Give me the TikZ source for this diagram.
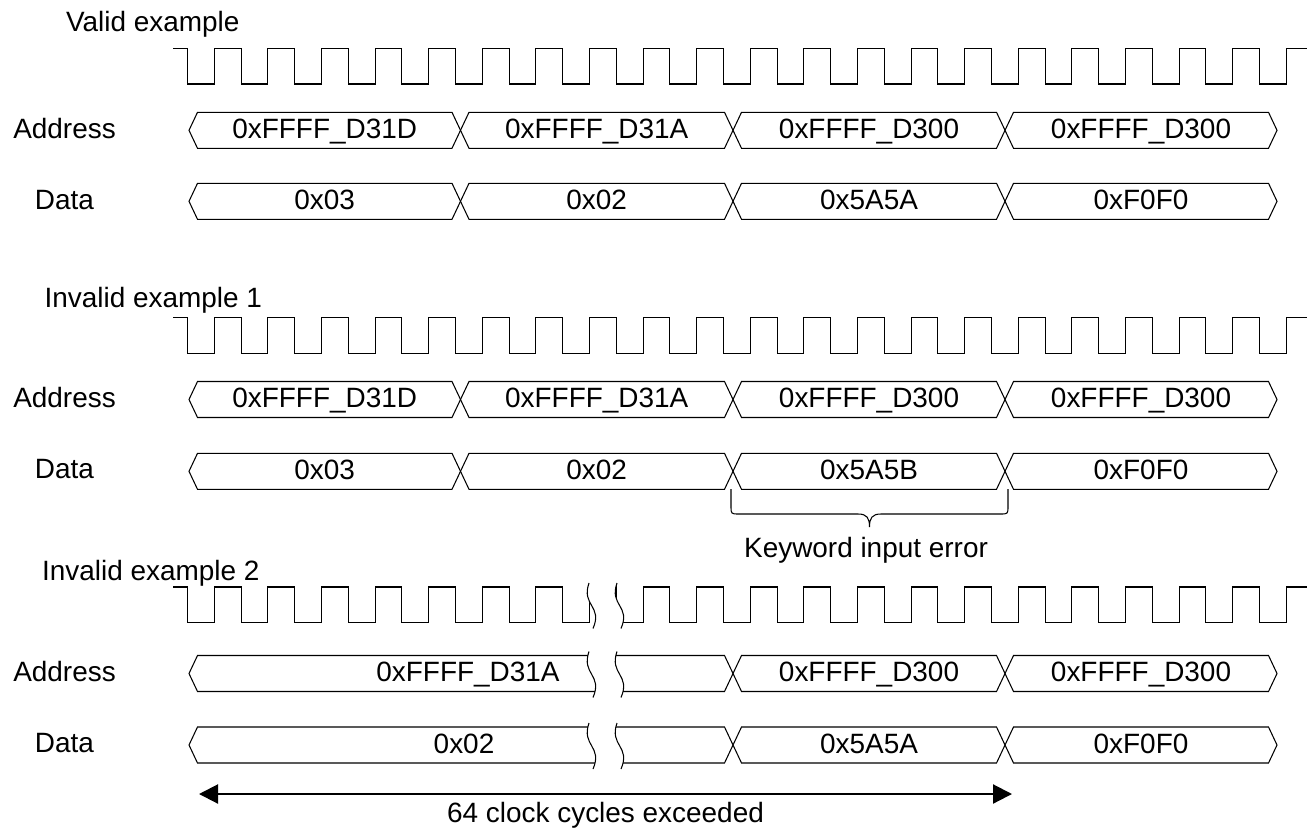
\documentclass[tikz,border=0pt]{standalone}
\usepackage{fontspec}
\setmainfont{Liberation Sans}
\usepackage{tikz}
\usetikzlibrary{arrows.meta, positioning}

\begin{document}
\begin{tikzpicture}[x=0.02cm, y=-0.02cm,
	sig/.style={line width=0.6pt, line join=miter},
	lbl/.style={font=\fontsize{15.9}{19}\selectfont, inner sep=0pt},
	]
	% Fix the page size
	\useasboundingbox (0,0) rectangle (1307,828);
	
	% Define the clock and bus geometry
	\def\period{53.6} % one clock cycle
	\def\fall{187.5} % first falling edge
	\def\hh{18} % half height of a bus
	\def\ch{8.5} % width of a bus edge
	
	% Titles of the examples
	\node[lbl, anchor=base west] (valid) at (65.7,31.7) {Valid example};
	\node[lbl, anchor=base west] (invA) at (44.3,307.7) {Invalid example 1};
	\node[lbl, anchor=base west] (invB) at (41.7,580) {Invalid example 2};
	
	% Draw the clocks
	\foreach \t/\b in {48.3/84, 317.7/353.3, 587/622.5} {
		\draw[sig] (173.3,\t) \foreach \k in {0,...,20} {
			-- ({\fall+\k*\period},\t) -- ({\fall+\k*\period},\b) -- ({\fall+\k*\period+26.8},\b) -- ({\fall+\k*\period+26.8},\t)
		} -- (1307,\t);
	}
	
	% Draw the buses of the first two examples
	\foreach \y in {130.3, 201.3, 399.5, 471.3} {
		\foreach \a/\b in {189/460.5, 460.5/733, 733/1005, 1005/1277} {
			\draw[sig] (\a,\y) -- ({\a+\ch},{\y-\hh}) -- ({\b-\ch},{\y-\hh}) -- (\b,\y) -- ({\b-\ch},{\y+\hh}) -- ({\a+\ch},{\y+\hh}) -- cycle;
		}
	}
	% Draw the buses of the last example
	\foreach \y in {673.5, 745} {
		\foreach \a/\b in {189/733, 733/1005, 1005/1277} {
			\draw[sig] (\a,\y) -- ({\a+\ch},{\y-\hh}) -- ({\b-\ch},{\y-\hh}) -- (\b,\y) -- ({\b-\ch},{\y+\hh}) -- ({\a+\ch},{\y+\hh}) -- cycle;
		}
	}
	
	% Break marks in the last example
	\foreach \t/\m/\b in {583/605.75/628.5, 651.5/674.5/697.5, 723/746/769} {
		\fill[white] (589,\t) .. controls (581,\m) and (603,\m) .. (593,\b) -- (621,\b) .. controls (631,\m) and (609,\m) .. (617,\t) -- cycle;
		\draw[sig] (589,\t) .. controls (581,\m) and (603,\m) .. (593,\b);
		\draw[sig] (617,\t) .. controls (609,\m) and (631,\m) .. (621,\b);
	}
	
	% Row labels
	\foreach \n/\y in {1/130.3, 2/399.5, 3/673.5} {
		\node[lbl, anchor=base] (addr\n) at (64.5,{\y+8}) {Address};
		\node[lbl, anchor=base] (data\n) at (64.5,{\y+79}) {Data};
	}
	
	% Bus values
	\foreach \x/\v [count=\i] in {324.7/0xFFFF\_D31D, 596.7/0xFFFF\_D31A, 869/0xFFFF\_D300, 1141/0xFFFF\_D300} {
		\node[lbl, anchor=base] (va\i) at (\x,138.3) {\v};
		\node[lbl, anchor=base] (ia\i) at (\x,407.5) {\v};
	}
	\foreach \x/\v [count=\i] in {324.7/0x03, 596.7/0x02, 869/0x5A5A, 1141/0xF0F0} {
		\node[lbl, anchor=base] (vd\i) at (\x,209.3) {\v};
	}
	\foreach \x/\v [count=\i] in {324.7/0x03, 596.7/0x02, 869/0x5A5B, 1141/0xF0F0} {
		\node[lbl, anchor=base] (id\i) at (\x,479.3) {\v};
	}
	\foreach \x/\v [count=\i] in {468/0xFFFF\_D31A, 869/0xFFFF\_D300, 1141/0xFFFF\_D300} {
		\node[lbl, anchor=base] (ja\i) at (\x,681.5) {\v};
	}
	\foreach \x/\v [count=\i] in {464/0x02, 869/0x5A5A, 1141/0xF0F0} {
		\node[lbl, anchor=base] (jd\i) at (\x,753) {\v};
	}
	
	% Brace under the wrong data
	\coordinate (brl) at (731,489);
	\coordinate (brr) at (1008,489);
	\coordinate (brtip) at (869.5,527);
	\draw[sig] (brl) -- (731,506) .. controls (731,514) .. (739,514) -- (858,514) .. controls (867,514) and (869.5,518) .. (brtip) .. controls (869.5,518) and (872,514) .. (881,514) -- (1000,514) .. controls (1008,514) .. (1008,506) -- (brr);
	\node[lbl, below=0.19cm of brtip, xshift=-0.07cm] (kwerr) {Keyword input error};
	
	% Arrow for the clock count
	\coordinate (cycL) at (199,794);
	\coordinate (cycR) at (1012,794);
	\draw[{Triangle[length=0.38cm,width=0.38cm]}-{Triangle[length=0.38cm,width=0.38cm]}, line width=1.2pt] (cycL) -- node[lbl, below=0.15cm] (cycles) {64 clock cycles exceeded} (cycR);
\end{tikzpicture}
\end{document}
